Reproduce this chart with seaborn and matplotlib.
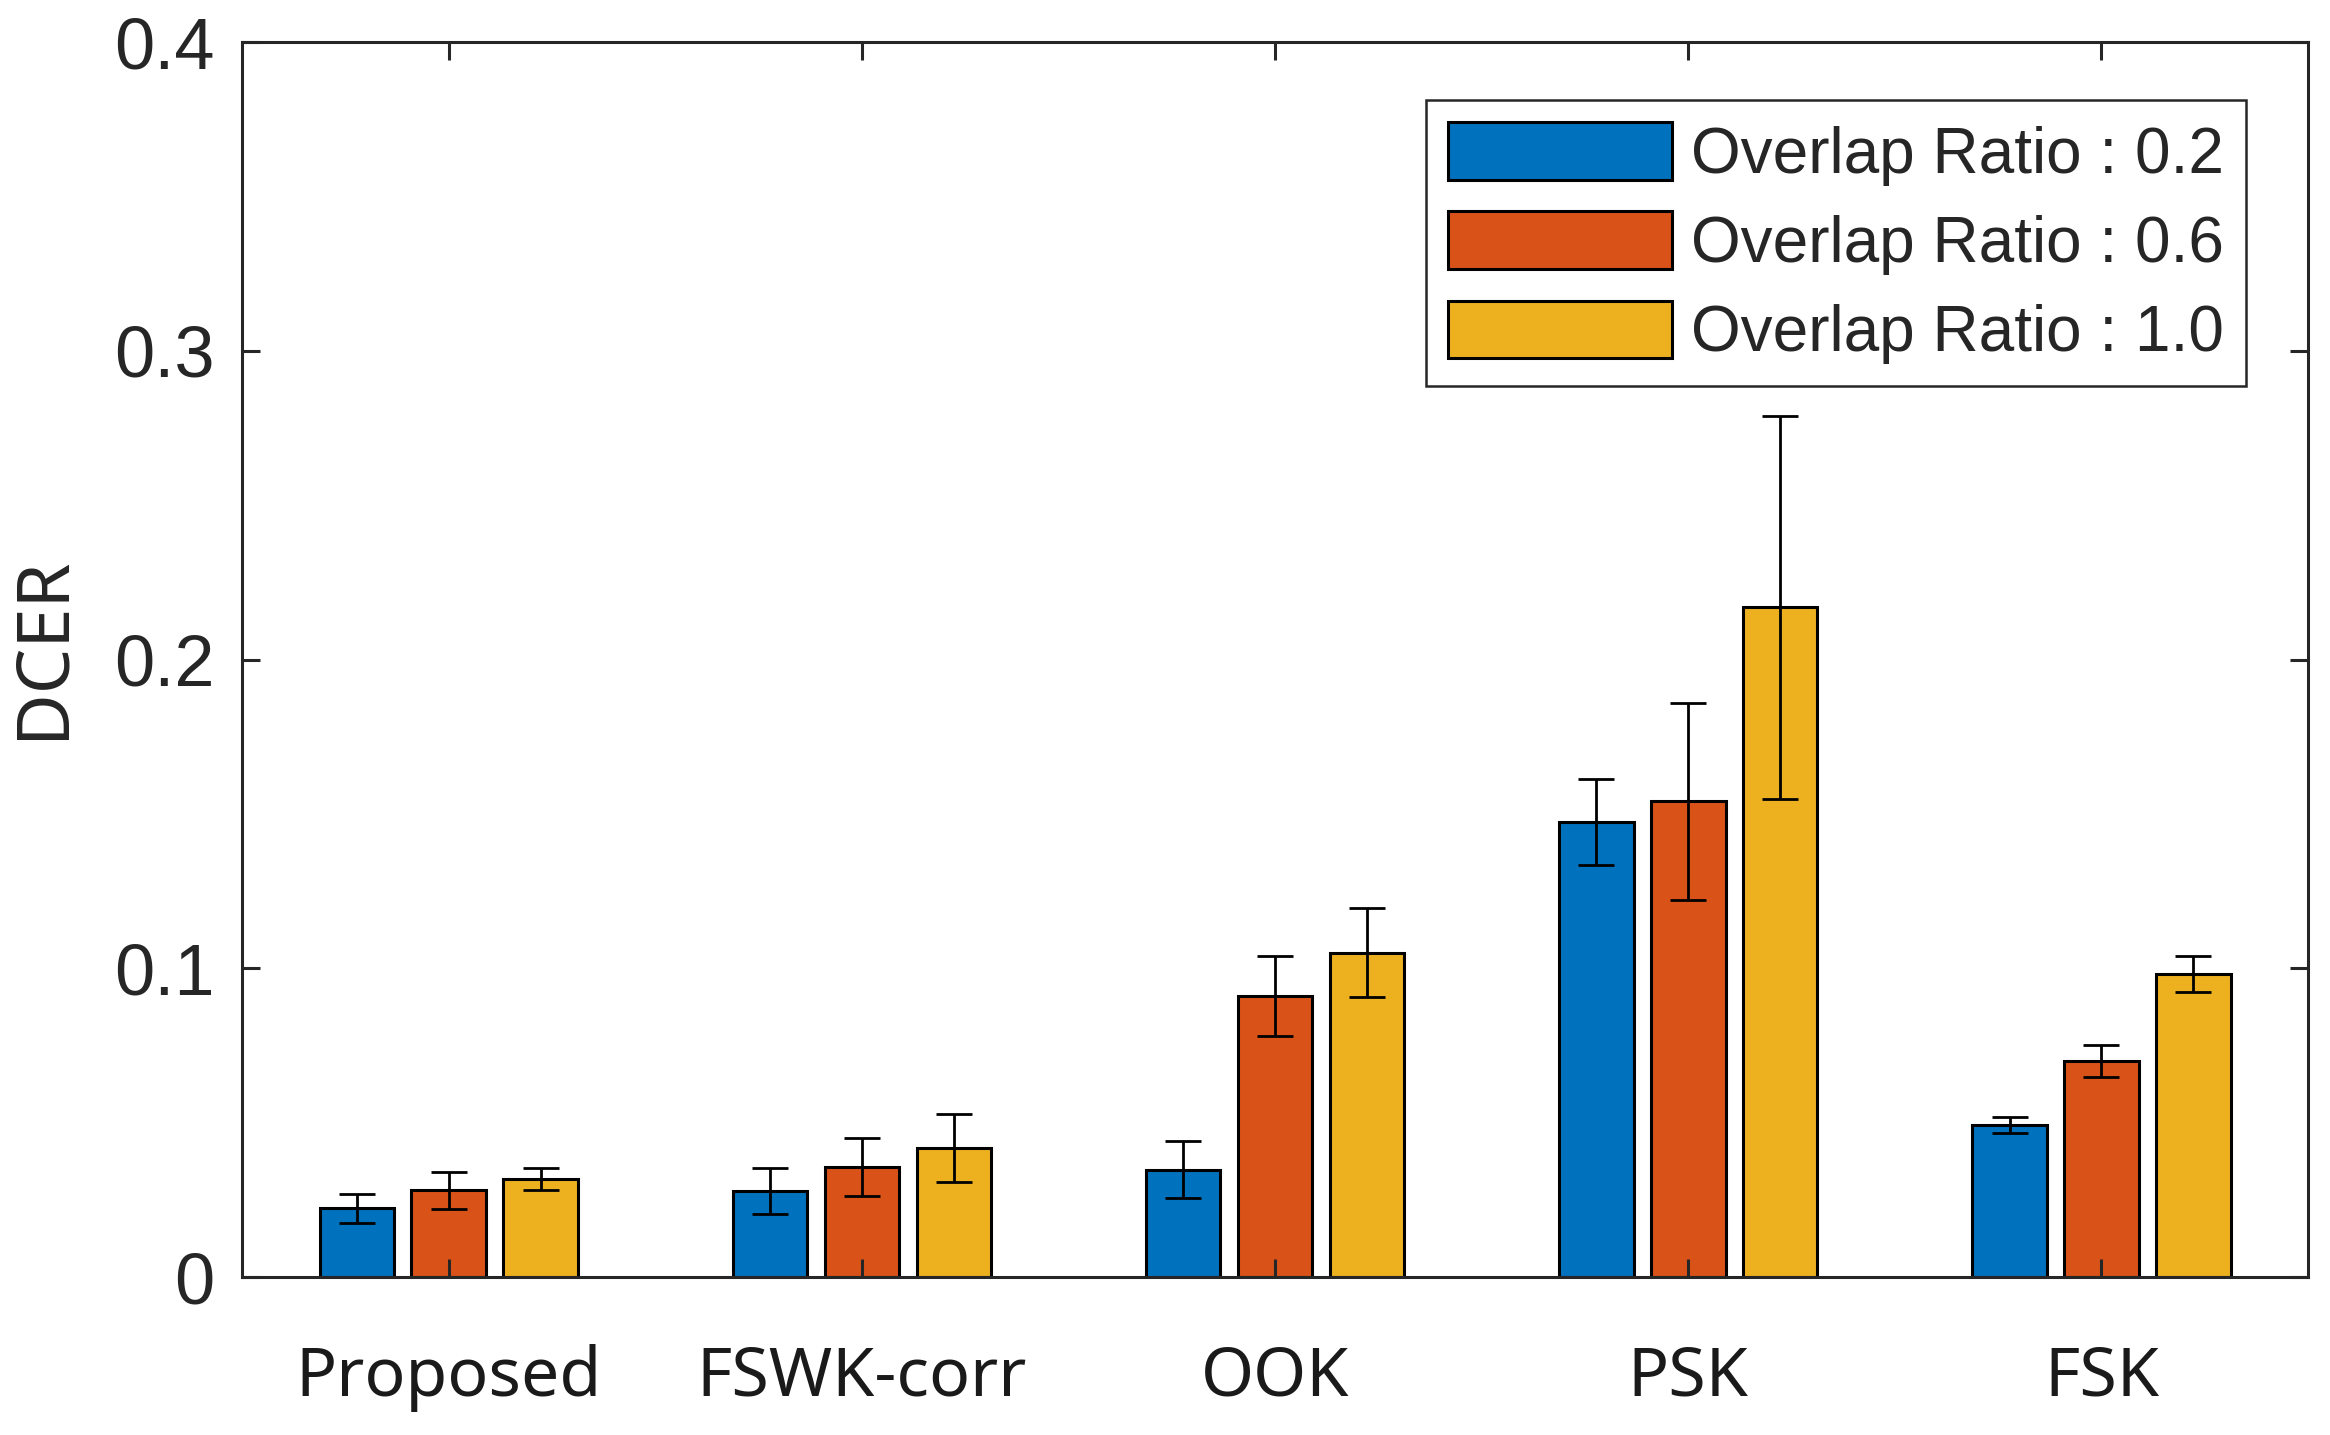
import matplotlib
matplotlib.use("Agg")
import matplotlib.pyplot as plt
import matplotlib.ticker as mticker
import pandas as pd
import seaborn as sns

# Chart data
methods = ["Proposed", "FSWK-corr", "OOK", "PSK", "FSK"]
ratios = ["Overlap Ratio : 0.2", "Overlap Ratio : 0.6", "Overlap Ratio : 1.0"]
dcer_02 = [0.0223, 0.0278, 0.0348, 0.1473, 0.0493]
dcer_06 = [0.0282, 0.0357, 0.0911, 0.1541, 0.0700]
dcer_10 = [0.0318, 0.0418, 0.1051, 0.2170, 0.0981]
err_02 = [0.0047, 0.0075, 0.0093, 0.0139, 0.0026]
err_06 = [0.0060, 0.0093, 0.0130, 0.0320, 0.0052]
err_10 = [0.0035, 0.0110, 0.0145, 0.0620, 0.0058]
colors = ["#0072BD", "#D95319", "#EDB120"]

sns.set_theme(style="ticks")
plt.rcParams["font.family"] = ["Liberation Sans", "DejaVu Sans"]
plt.rcParams["axes.axisbelow"] = "line"

# Long-form table for seaborn
rows = []
for ratio, vals, errs in zip(ratios, [dcer_02, dcer_06, dcer_10], [err_02, err_06, err_10]):
    for m, v, e in zip(methods, vals, errs):
        rows.append({"method": m, "ratio": ratio, "dcer": v, "err": e})
df = pd.DataFrame(rows)

fig, ax = plt.subplots(figsize=(11.65, 7.175), dpi=200)
fig.subplots_adjust(left=0.1039, right=0.9906, bottom=0.110, top=0.9707)

sns.barplot(
    data=df, x="method", y="dcer", hue="ratio",
    order=methods, hue_order=ratios, palette=colors, saturation=1,
    width=0.667, gap=0.19, edgecolor="black", linewidth=1.1,
    errorbar=None, ax=ax,
)

# Error bars placed at the centres of the bars seaborn drew
for container, errs in zip(ax.containers, [err_02, err_06, err_10]):
    xs = [b.get_x() + b.get_width() / 2 for b in container]
    ys = [b.get_height() for b in container]
    ax.errorbar(xs, ys, yerr=errs, fmt="none", ecolor="black",
                elinewidth=1.0, capsize=6.5, capthick=1.0, zorder=3)

ax.set_xlim(-0.5, len(methods) - 0.5)
ax.set_ylim(0, 0.4)
ax.set_yticks([0, 0.1, 0.2, 0.3, 0.4])
ax.yaxis.set_major_formatter(mticker.FuncFormatter(lambda v, _: f"{v:g}"))

ax.set_xlabel("")
ax.set_ylabel("DCER", fontsize=26, family=["Noto Sans", "DejaVu Sans"], labelpad=14)
ax.yaxis.set_label_coords(-0.078, 0.51)

for sp in ax.spines.values():
    sp.set_visible(True)
    sp.set_linewidth(1.1)
    sp.set_color("#262626")

ax.tick_params(axis="both", direction="in", top=True, right=True,
               length=6.5, width=1.1, color="#262626")
ax.tick_params(axis="y", labelsize=26, pad=10, labelcolor="#262626")
ax.tick_params(axis="x", labelsize=24.5, pad=24, labelcolor="#1a1a1a")
for lbl in ax.get_xticklabels():
    lbl.set_family(["Noto Sans", "DejaVu Sans"])

handles, labels = ax.get_legend_handles_labels()
leg = ax.legend(
    handles, labels, loc="upper right", bbox_to_anchor=(0.970, 0.953),
    borderaxespad=0, fancybox=False, framealpha=1, edgecolor="#262626",
    fontsize=23, handlelength=3.5, handleheight=1.0, labelspacing=0.4,
    handletextpad=0.3, borderpad=0.35,
)
leg.get_frame().set_linewidth(0.9)

fig.savefig("out.png", dpi=200)
plt.close(fig)
